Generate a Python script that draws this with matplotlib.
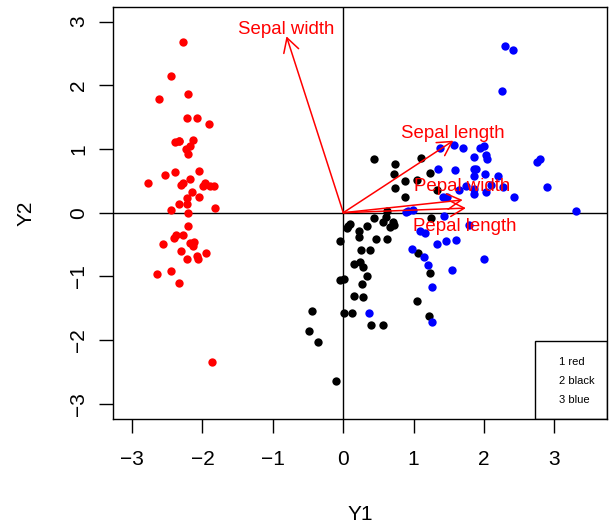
import matplotlib
matplotlib.use("Agg")
import matplotlib.pyplot as plt
from matplotlib.patches import Rectangle

plt.rcParams['font.family'] = ['Liberation Sans', 'DejaVu Sans']

# scores, group 1 (red)
red_x = [-2.27, -2.45, -2.62, -2.20, -2.22, -2.08, -1.91, -2.39, -2.34, -2.14,
         -2.18, -2.23, -2.21, -2.53, -2.39, -2.05, -2.78, -2.27, -2.18, -2.30,
         -1.96, -1.89, -1.83, -2.15, -2.22, -2.05, -2.33, -2.22, -2.45, -1.82,
         -2.21, -2.21, -2.37, -2.27, -2.40, -2.56, -2.18, -2.12, -2.14, -2.31,
         -1.95, -2.22, -2.08, -2.07, -2.44, -2.64, -2.34, -1.86, -2.33, -1.99]
red_y = [2.68, 2.15, 1.78, 1.86, 1.48, 1.49, 1.40, 1.11, 1.13, 1.14,
         1.04, 1.00, 0.92, 0.59, 0.64, 0.66, 0.46, 0.47, 0.53, 0.43,
         0.47, 0.42, 0.42, 0.32, 0.23, 0.24, 0.13, 0.13, 0.04, 0.08,
         0.00, -0.21, -0.35, -0.35, -0.39, -0.49, -0.48, -0.46, -0.52, -0.60,
         -0.63, -0.73, -0.68, -0.72, -0.91, -0.96, -1.11, -2.34, 1.12, 0.42]

# group 2 (black)
black_x = [0.43, 0.74, 1.10, 0.72, 0.87, 1.04, 1.23, 0.73, 0.87, 1.33,
           0.62, 1.25, 0.07, 0.10, 0.22, 0.22, 0.34, 0.44, 0.57, 0.66,
           0.72, -0.04, 0.47, 0.62, 0.25, 0.38, 1.06, 0.15, 0.24, 0.28,
           0.33, 1.23, -0.05, 0.01, 0.27, 0.15, 0.28, 1.04, -0.45, 0.01,
           0.12, 1.22, 0.40, 0.56, -0.49, -0.36, -0.11, 0.70, 0.61, 0.05]
black_y = [0.84, 0.77, 0.86, 0.60, 0.50, 0.52, 0.62, 0.39, 0.25, 0.35,
           0.03, -0.08, -0.21, -0.17, -0.28, -0.38, -0.21, -0.08, -0.15, -0.23,
           -0.19, -0.44, -0.42, -0.42, -0.59, -0.59, -0.64, -0.80, -0.77, -0.86,
           -0.99, -0.94, -1.06, -1.04, -1.12, -1.31, -1.33, -1.39, -1.55, -1.57,
           -1.57, -1.62, -1.76, -1.77, -1.85, -2.03, -2.65, -0.14, -0.07, -0.24]

# group 3 (blue)
blue_x = [2.30, 2.41, 2.25, 1.37, 1.57, 1.70, 1.94, 2.00, 1.85, 2.03,
          2.04, 2.75, 2.79, 1.35, 1.58, 1.85, 1.89, 2.01, 2.20, 1.85,
          2.27, 1.47, 1.86, 2.43, 2.89, 3.31, 0.92, 0.99, 1.43, 1.78,
          1.09, 1.16, 1.33, 1.46, 1.60, 0.97, 1.15, 1.20, 2.00, 1.55,
          1.26, 0.36, 1.26, 1.86, 1.42, 0.89, 1.64, 2.03, 1.75, 2.10]
blue_y = [2.62, 2.55, 1.91, 1.02, 1.06, 1.02, 1.01, 1.04, 0.87, 0.91,
          0.85, 0.80, 0.85, 0.69, 0.67, 0.68, 0.69, 0.61, 0.57, 0.57,
          0.41, 0.25, 0.29, 0.25, 0.41, 0.02, 0.03, 0.05, -0.05, -0.19,
          -0.28, -0.32, -0.49, -0.44, -0.43, -0.57, -0.70, -0.82, -0.72, -0.90,
          -1.17, -1.57, -1.71, 0.37, 0.25, 0.01, 0.36, 0.32, 0.42, 0.44]

# variable arrows
var_names = ["Sepal length", "Sepal width", "Pepal length", "Pepal width"]
arrow_x = [1.563, -0.807, 1.741, 1.695]
arrow_y = [1.131, 2.769, 0.072, 0.200]
label_x = [1.554, -0.817, 1.731, 1.683]
label_y = [1.246, 2.879, -0.220, 0.408]

legend_text = ["1 red", "2 black", "3 blue"]

fig = plt.figure(figsize=(6.09, 5.25), dpi=100)
ax = fig.add_axes([0.1860, 0.2019, 0.8112, 0.7853])

ax.axhline(0, color='black', lw=1.0, zorder=1)
ax.axvline(0, color='black', lw=1.0, zorder=1)

ax.scatter(red_x, red_y, s=36, color='#ff0000', linewidths=0, zorder=2)
ax.scatter(black_x, black_y, s=36, color='black', linewidths=0, zorder=2)
ax.scatter(blue_x, blue_y, s=36, color='#0000ff', linewidths=0, zorder=2)

for i in range(len(var_names)):
    ax.annotate("", xy=(arrow_x[i], arrow_y[i]), xytext=(0, 0),
                arrowprops=dict(arrowstyle="->,head_length=0.5,head_width=0.28",
                                color='#ff0000', lw=1.1, mutation_scale=20,
                                shrinkA=0, shrinkB=0), zorder=3)
    ax.text(label_x[i], label_y[i], var_names[i], color='#ff0000',
            fontsize=13.4, ha='center', va='center', zorder=4)

ax.set_xlim(-3.267, 3.75)
ax.set_ylim(-3.239, 3.234)
ax.set_xticks([-3, -2, -1, 0, 1, 2, 3])
ax.set_yticks([-3, -2, -1, 0, 1, 2, 3])
ax.tick_params(axis='both', direction='out', length=10, width=1,
               labelsize=15, pad=12)
ax.tick_params(axis='y', pad=8)
for lab in ax.get_yticklabels():
    lab.set_rotation(90)
    lab.set_va('center')
for sp in ax.spines.values():
    sp.set_linewidth(1.0)

# legend box
ax.add_patch(Rectangle((0.8536, 0.0), 0.1464, 0.1892, transform=ax.transAxes,
                       fill=False, edgecolor='black', lw=1.0, zorder=5))
for j, t in enumerate(legend_text):
    ax.text(0.903, 0.139 - j * 0.0465, t, transform=ax.transAxes,
            fontsize=8, ha='left', va='center', zorder=6)

fig.text(360 / 609, 1 - 515 / 525, "Y1", fontsize=15, ha='center', va='center')
fig.text(26 / 609, 1 - 213 / 525, "Y2", fontsize=15, ha='center', va='center',
         rotation=90)

fig.savefig("out.png", dpi=100)
